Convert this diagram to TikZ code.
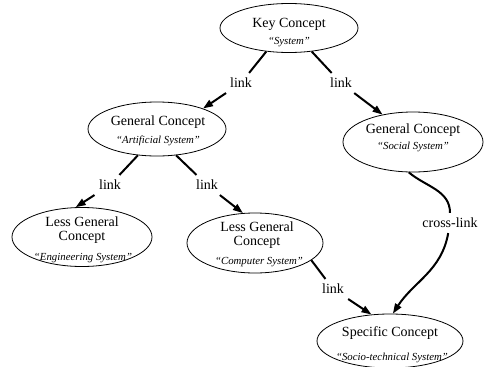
\documentclass[tikz,border=0pt]{standalone}
\usepackage{fontspec}
\setmainfont{Liberation Serif}
\usetikzlibrary{shapes.geometric,arrows.meta}

\tikzset{
	concept/.style={ellipse,draw,line width=0.8pt,inner sep=0pt},
	title/.style={font=\fontsize{14}{14.5}\selectfont,align=center,inner sep=0pt},
	quote/.style={font=\fontsize{10.8}{12}\selectfont\itshape,inner sep=0pt},
	link/.style={font=\fontsize{14}{15}\selectfont,inner sep=5pt},
	tie/.style={line width=2pt},
	arr/.style={line width=2pt,-{Triangle[length=10pt,width=7pt]}},
}

\begin{document}
\begin{tikzpicture}[x=1pt,y=-1pt]
		\useasboundingbox (0,0) rectangle (485,367);
		% 概念
		\node[concept,minimum width=138pt,minimum height=49pt] (key) at (289,28) {};
		\node[concept,minimum width=138pt,minimum height=54pt] (gen1) at (157,129) {};
		\node[concept,minimum width=140pt,minimum height=60pt] (soc) at (413,142) {};
		\node[concept,minimum width=140pt,minimum height=59pt] (eng) at (82,237) {};
		\node[concept,minimum width=136pt,minimum height=60pt] (comp) at (255,243) {};
		\node[concept,minimum width=146pt,minimum height=54pt] (spec) at (390,341) {};
		% 文字
		\node[title] (keyT) at (289,24) {Key Concept};
		\node[quote] (keyQ) at (289,42) {“System”};
		\node[title] (gen1T) at (158,122) {General Concept};
		\node[quote] (gen1Q) at (158,141) {“Artificial System”};
		\node[title] (socT) at (413,130) {General Concept};
		\node[quote] (socQ) at (413,147) {“Social System”};
		\node[title] (engT) at (82,230) {Less General\\Concept};
		\node[quote] (engQ) at (83,258) {“Engineering System”};
		\node[title] (compT) at (257,235) {Less General\\Concept};
		\node[quote] (compQ) at (259,262) {“Computer System”};
		\node[title] (specT) at (390,333) {Specific Concept};
		\node[quote] (specQ) at (392,358) {“Socio-technical System”};
		% 连接
		\node[link] (l1) at (241,83) {link};
		\node[link] (l2) at (341,83) {link};
		\node[link] (l3) at (110,185) {link};
		\node[link] (l4) at (207,185) {link};
		\node[link] (l5) at (333,289) {link};
		\node[link] (l6) at (450,223) {cross-link};
		\draw[tie] (key.226) -- (l1);
		\draw[arr] (l1) -- (gen1.24);
		\draw[tie] (key.314) -- (l2);
		\draw[arr] (l2) -- (soc.138);
		\draw[tie] (gen1.234) -- (l3);
		\draw[arr] (l3) -- (eng.102);
		\draw[tie] (gen1.306) -- (l4);
		\draw[arr] (l4) -- (comp.112);
		\draw[tie] (comp.343) -- (l5);
		\draw[arr] (l5) -- (spec.125);
		\draw[tie] (soc.262) to[out=-40,in=90] (l6);
		\draw[arr] (l6) to[out=-100,in=57] (spec.84);
	\end{tikzpicture}
\end{document}
